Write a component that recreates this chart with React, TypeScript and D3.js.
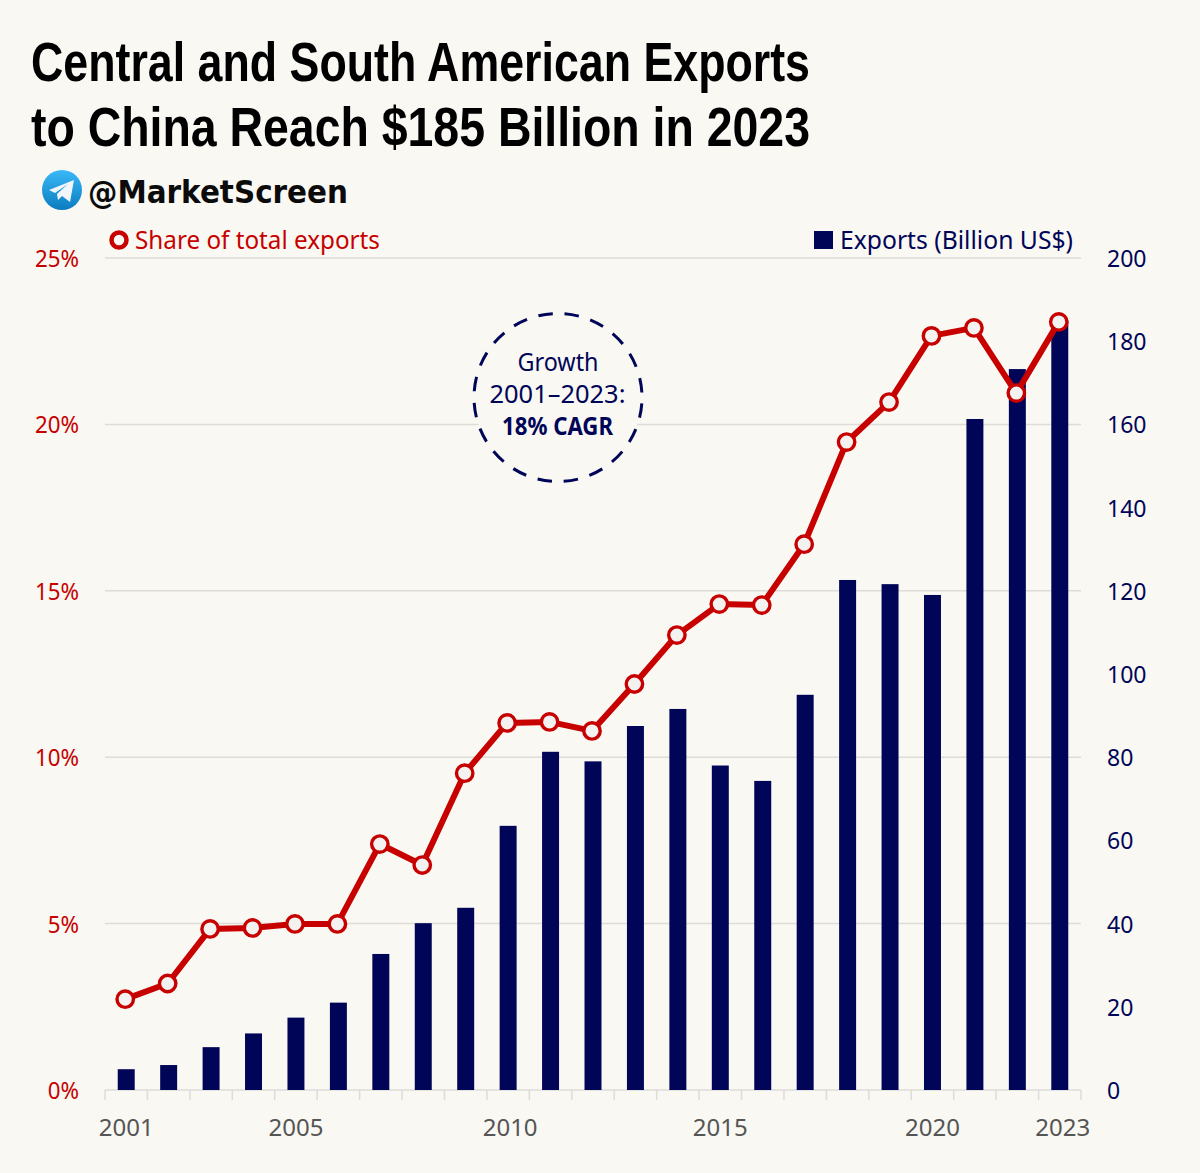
import React from "react";
import * as d3 from "d3";

const years = [2001,2002,2003,2004,2005,2006,2007,2008,2009,2010,2011,2012,2013,2014,2015,2016,2017,2018,2019,2020,2021,2022,2023];
const exportsBn = [5,6,10.3,13.6,17.4,21,32.7,40.1,43.8,63.5,81.3,79,87.5,91.6,78,74.3,95,122.6,121.6,119,161.3,173.3,185];
const sharePct = [2.73,3.2,4.84,4.87,4.99,4.99,7.39,6.76,9.52,11.03,11.06,10.79,12.2,13.67,14.6,14.57,16.4,19.47,20.67,22.66,22.9,20.94,23.08];
const leftTicks = [0,5,10,15,20,25];
const rightTicks = [0,20,40,60,80,100,120,140,160,180,200];
const labelYears = [2001,2005,2010,2015,2020,2023];
const titleLines = ["Central and South American Exports","to China Reach $185 Billion in 2023"];

const BG = "#f9f8f3", RED = "#c70000", NAVY = "#000558", GRID = "#dddcd8", GREY = "#555555";
const FONT = "'Noto Sans', sans-serif";
const X0 = 105, X1 = 1081, Y0 = 1090, Y1 = 258;

export default function App() {
  const x = d3.scaleBand<number>().domain(years).range([X0, X1]).paddingInner(0.6).paddingOuter(0.3);
  const cx = (y: number) => x(y)! + x.bandwidth() / 2;
  const px = (y: number) => cx(y) - 1;
  const yL = d3.scaleLinear().domain([0, 25]).range([Y0, Y1]);
  const yR = d3.scaleLinear().domain([0, 200]).range([Y0, Y1]);
  const step = (X1 - X0) / years.length;
  const line = d3.line<number>().x((_, i) => px(years[i])).y(d => yL(d));
  const squeeze = (a: number, b: number, k: number) => `translate(${a},${b}) scale(${k},1)`;

  return (
    <svg width={1200} height={1173} style={{ position: "absolute", left: 0, top: 0, background: BG }} fontFamily={FONT}>
      <defs>
        <linearGradient id="tg" x1="0" y1="0" x2="0" y2="1">
          <stop offset="0" stopColor="#3ab8f8" />
          <stop offset="1" stopColor="#0a7cc0" />
        </linearGradient>
      </defs>
      <rect width={1200} height={1173} fill={BG} />
      {titleLines.map((t, i) => (
        <text key={t} x={31} y={81 + i * 65} fontFamily="'Liberation Sans Narrow', 'Liberation Sans', sans-serif" fontWeight={700} fontSize={56} fill="#000" textLength={779} lengthAdjust="spacingAndGlyphs">{t}</text>
      ))}
      <circle cx={62} cy={190} r={20} fill="url(#tg)" />
      <path d="M49 190 L74 180 L70 202 L62 196 L58 200 L57 194 L68 184 L55 193 Z" fill="#f2f6fa" />
      <text x={88} y={203} fontFamily="'DejaVu Sans', sans-serif" fontWeight={700} fontSize={32} fill="#0b0b0b" textLength={260} lengthAdjust="spacingAndGlyphs">@MarketScreen</text>

      {leftTicks.map(t => (
        <line key={t} x1={X0} x2={X1} y1={yL(t)} y2={yL(t)} stroke={GRID} strokeWidth={1.5} />
      ))}
      {d3.range(years.length + 1).map(i => (
        <line key={i} x1={X0 + i * step} x2={X0 + i * step} y1={Y0} y2={Y0 + 10} stroke={GRID} strokeWidth={1.5} />
      ))}
      {leftTicks.map(t => (
        <text key={t} transform={squeeze(79, yL(t) + 9, 0.95)} textAnchor="end" fontSize={23.5} fill={RED}>{t}%</text>
      ))}
      {rightTicks.map(t => (
        <text key={t} transform={squeeze(1107, yR(t) + 9, 0.96)} fontSize={24} fill={NAVY}>{t}</text>
      ))}
      {labelYears.map(y => (
        <text key={y} transform={squeeze(cx(y) + (y === 2023 ? 3 : y === 2010 ? 2 : y === 2001 ? 0 : 0), 1136, 1)} textAnchor="middle" fontSize={24} fill={GREY}>{y}</text>
      ))}

      <circle cx={558} cy={397.5} r={84} fill={BG} stroke={NAVY} strokeWidth={3} strokeDasharray="14.5 11.89" strokeDashoffset={-5.95} />
      <text x={558} y={371} textAnchor="middle" fontSize={25.5} fill={NAVY} textLength={81} lengthAdjust="spacingAndGlyphs">Growth</text>
      <text x={557.5} y={403} textAnchor="middle" fontSize={25.5} fill={NAVY} textLength={136} lengthAdjust="spacingAndGlyphs">2001–2023:</text>
      <text x={557.5} y={435} textAnchor="middle" fontSize={25.5} fontWeight={700} fill={NAVY} textLength={111} lengthAdjust="spacingAndGlyphs">18% CAGR</text>

      {years.map((y, i) => (
        <rect key={y} x={x(y)} y={yR(exportsBn[i])} width={x.bandwidth()} height={Y0 - yR(exportsBn[i])} fill={NAVY} />
      ))}
      <path d={line(sharePct)!} fill="none" stroke={RED} strokeWidth={6} strokeLinejoin="round" />
      {years.map((y, i) => (
        <circle key={y} cx={px(y)} cy={yL(sharePct[i])} r={8.2} fill="#f3f2f0" stroke={RED} strokeWidth={3.4} />
      ))}

      <circle cx={119} cy={240} r={7.5} fill={BG} stroke={RED} strokeWidth={4.5} />
      <text x={135} y={249} fontSize={24.5} fill={RED} textLength={245} lengthAdjust="spacingAndGlyphs">Share of total exports</text>
      <rect x={814} y={231} width={19} height={18} fill={NAVY} />
      <text x={840} y={249} fontSize={24.5} fill={NAVY} textLength={233} lengthAdjust="spacingAndGlyphs">Exports (Billion US$)</text>
    </svg>
  );
}
